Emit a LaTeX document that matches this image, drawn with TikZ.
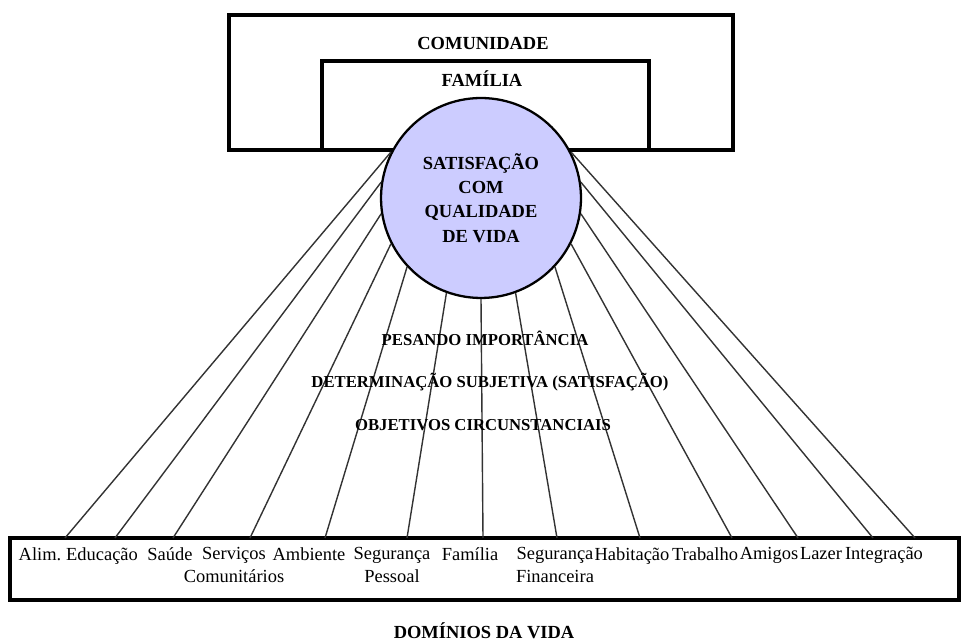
\documentclass[tikz,border=0pt]{standalone}
\usepackage{fontspec}
\setmainfont{Liberation Serif}
\definecolor{lilac}{RGB}{204,204,255}
\begin{document}
\begin{tikzpicture}[x=0.02cm,y=-0.02cm,
    frame/.style={draw,line width=1.9pt,inner sep=0pt},
    ray/.style={draw=black!80,line width=0.8pt},
    head/.style={font=\fontsize{10.5}{13.8}\selectfont\bfseries},
    midtext/.style={font=\fontsize{9.5}{11}\selectfont\bfseries},
    dom/.style={anchor=north,inner sep=0pt,align=center,font=\fontsize{10.5}{13}\selectfont}]
  \useasboundingbox (0,0) rectangle (963,644);
  \node[frame,minimum width=10.08cm,minimum height=2.7cm] (comm) at (481,82.5) {};
  \draw[line width=1.9pt] (322,150) |- (649,61) -- (649,150);
  \node[head] (comt) at (483,43) {COMUNIDADE};
  \node[head] (famt) at (482,79) {FAMÍLIA};
  \node[circle,draw,line width=1.3pt,fill=lilac,minimum size=4cm,inner sep=0pt,
    align=center,head] (sat) at (481,198) {SATISFAÇÃO\\COM\\QUALIDADE\\DE VIDA};
  \node[frame,minimum width=18.98cm,minimum height=1.24cm] (doms) at (484.5,569) {};
  \foreach \x [count=\i] in {65,115,173,250,325,407,483,557,640,732,798,873,915}
    \coordinate (d\i) at (\x,538);
  \foreach \a [count=\i] in {153,171,189,207,223,250,270,290,317,333,351,9,27}
    \draw[ray] (sat.\a) -- (d\i);
  \node[midtext] (pes) at (485,338) {PESANDO IMPORTÂNCIA};
  \node[midtext] (det) at (490,382) {DETERMINAÇÃO SUBJETIVA (SATISFAÇÃO)};
  \node[midtext] (obj) at (483,425) {OBJETIVOS CIRCUNSTANCIAIS};
  \node[dom] (l1) at (40,547) {Alim.};
  \node[dom] (l2) at (102,547) {Educação};
  \node[dom] (l3) at (170,547) {Saúde};
  \node[dom] (l4) at (234,547) {Serviços\\Comunitários};
  \node[dom] (l5) at (309,547) {Ambiente};
  \node[dom] (l6) at (392,547) {Segurança\\Pessoal};
  \node[dom] (l7) at (470,547) {Família};
  \node[dom] (l8) at (555,547) {Segurança\\Financeira};
  \node[dom] (l9) at (632,547) {Habitação};
  \node[dom] (l10) at (705,547) {Trabalho};
  \node[dom] (l11) at (769,547) {Amigos};
  \node[dom] (l12) at (821,547) {Lazer};
  \node[dom] (l13) at (884,547) {Integração};
  \node[head] (domt) at (484,631) {DOMÍNIOS DA VIDA};
\end{tikzpicture}
\end{document}
